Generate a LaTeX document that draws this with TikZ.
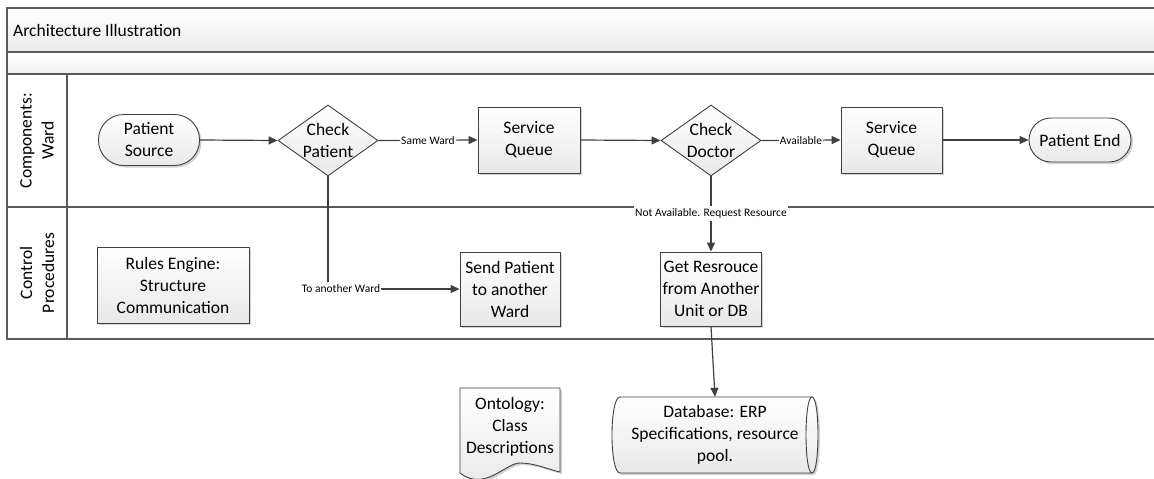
\documentclass[tikz,border=0pt]{standalone}
\usepackage{fontspec}
\setmainfont{Carlito}
\usetikzlibrary{arrows.meta,shapes.geometric,shadows}
\definecolor{ln}{HTML}{404040}
\definecolor{fr}{HTML}{5A5A5A}
\begin{document}
\begin{tikzpicture}[x=1pt,y=-1pt,
  every node/.style={font=\fontsize{17.5}{22}\selectfont, align=center},
  shd/.style={drop shadow={shadow xshift=2pt,shadow yshift=-2pt,opacity=0.25,fill=black!70}},
  filler/.style={top color=white, bottom color=black!9},
  box/.style={draw=ln, line width=0.9pt, filler, shd, inner sep=2pt},
  term/.style={box, rounded corners=#1},
  dia/.style={shape=diamond, draw=ln, line width=0.9pt, filler, aspect=1.37, inner sep=0pt, minimum width=100pt, minimum height=71pt},
  arr/.style={draw=ln, line width=1.2pt, -{Triangle[length=9pt,width=8pt]}},
  lbl/.style={font=\fontsize{11.5}{13}\selectfont, fill=white, inner xsep=1pt, inner ysep=2.5pt},
  frame/.style={draw=fr, line width=1.3pt}]
\useasboundingbox (0,0) rectangle (1154,479);
\fill[white] (0,0) rectangle (1154,479);
% header bands
\shade[top color=white, bottom color=black!8] (7,8) rectangle (1154,52);
\shade[top color=white, bottom color=black!6] (7,52) rectangle (1154,74);
\draw[frame] (1154,8) -- (7,8) -- (7,339) -- (1154,339);
\draw[frame] (7,52) -- (1154,52);
\draw[frame] (7,74) -- (1154,74);
\draw[frame] (7,207) -- (1154,207);
\draw[frame] (67,74) -- (67,339);
\node[anchor=west, inner sep=3pt] (title) at (10,30) {Architecture Illustration};
\node[rotate=90] (lane1) at (37,140.5) {Components:\\Ward};
\node[rotate=90] (lane2) at (37,273) {Control\\Procedures};
% ward lane
\node[term=25pt, minimum width=101pt, minimum height=51pt] (ps) at (149,140) {Patient\\Source};
\node[dia] (cp) at (328,140.5) {Check\\Patient};
\node[box, minimum width=102pt, minimum height=66pt] (sq1) at (529,140) {Service\\Queue};
\node[dia] (cd) at (711,140.5) {Check\\Doctor};
\node[box, minimum width=101pt, minimum height=66pt] (sq2) at (891.5,140) {Service\\Queue};
\node[term=22pt, minimum width=102pt, minimum height=44pt] (pe) at (1080,140) {Patient End};
% control lane
\node[box, minimum width=152pt, minimum height=76pt] (re) at (173,285) {Rules Engine:\\Structure\\Communication};
\node[box, minimum width=100pt, minimum height=74pt] (sp) at (510,289) {Send Patient\\to another\\Ward};
\node[box, minimum width=100pt, minimum height=74pt] (gr) at (711,289) {Get Resrouce\\from Another\\Unit or DB};
% ontology document
\path[draw=ln, line width=0.9pt, filler, shd] (460,388) -- (560,388) -- (560,472)
  .. controls (550,470) and (535,463) .. (520,463)
  .. controls (505,463) and (485,492) .. (460,473) -- cycle;
\node[inner sep=0pt] (ont) at (510,427) {Ontology:\\Class\\Descriptions};
% database cylinder
\path[draw=ln, line width=0.9pt, filler, shd] (620,397) -- (812,397)
  .. controls (820,397) and (820,473) .. (812,473) -- (620,473)
  .. controls (609.3,473) and (609.3,397) .. (620,397) -- cycle;
\draw[ln, line width=0.9pt] (812,397) .. controls (804,397) and (804,473) .. (812,473);
\node[minimum width=206pt, minimum height=76pt, inner sep=0pt] (db) at (715,435) {Database: ERP\\Specifications, resource\\pool.};
% connectors
\draw[arr] (ps.east) -- (cp.west);
\draw[arr] (cp.east) -- node[lbl] (l1) {Same Ward} (sq1.west);
\draw[arr] (sq1.east) -- (cd.west);
\draw[arr] (cd.east) -- node[lbl] (l2) {Available} (sq2.west);
\draw[arr] (sq2.east) -- (pe.west);
\draw[arr] (cp.south) |- node[lbl, pos=0.5, xshift=13pt] (l3) {To another Ward} (sp.west);
\draw[arr] (cd.south) -- node[lbl, pos=0.5, yshift=0.5pt] (l4) {Not Available. Request Resource} (gr.north);
\draw[arr] (gr.south) -- (db.north);
\end{tikzpicture}
\end{document}
